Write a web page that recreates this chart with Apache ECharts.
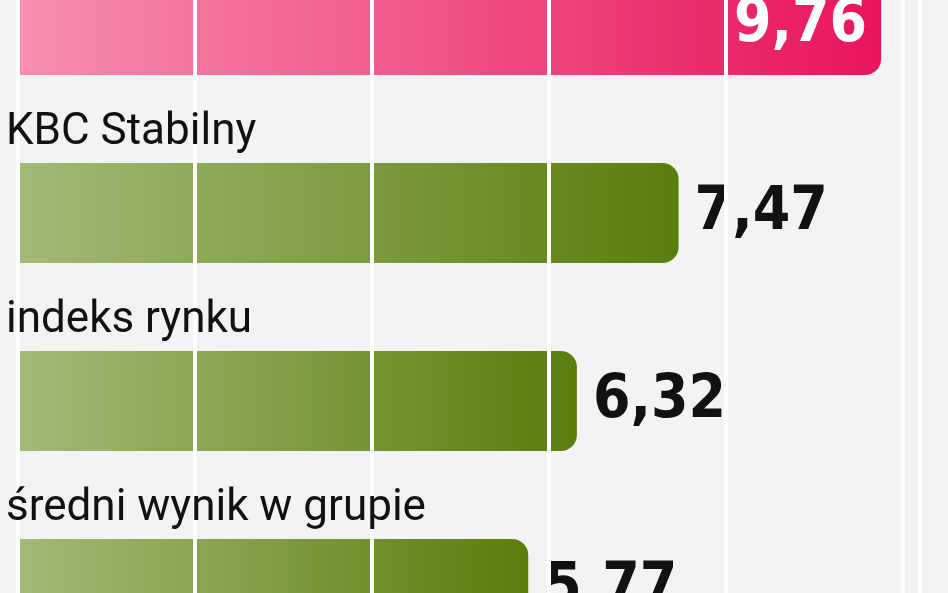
<!DOCTYPE html>
<html><head><meta charset="utf-8">
<script src="https://cdn.jsdelivr.net/npm/echarts@6/dist/echarts.min.js"></script>
<style>html,body{margin:0;padding:0;background:#f3f3f3;overflow:hidden;width:948px;height:593px}#c{position:absolute;left:0;top:-69px;width:948px;height:752px}</style>
</head><body><div id="c"></div>
<script>
const categories = ["", "KBC Stabilny", "indeks rynku", "średni wynik w grupie"];
const values = [9.76, 7.47, 6.32, 5.77];
const highlight = [true, false, false, false];

const green = new echarts.graphic.LinearGradient(0,0,1,0,[{offset:0,color:'#a3ba78'},{offset:1,color:'#5a7e0c'}]);
const pink = new echarts.graphic.LinearGradient(0,0,1,0,[{offset:0,color:'#f78fae'},{offset:1,color:'#e8155a'}]);

const chart = echarts.init(document.getElementById('c'));
chart.setOption({
  backgroundColor:'#f3f3f3',
  animation:false,
  grid:{left:18,right:28,top:0,bottom:0},
  xAxis:{type:'value',min:0,max:10.2,interval:2,z:5,
    axisLabel:{show:false},axisLine:{show:false},axisTick:{show:false},
    splitLine:{show:true,lineStyle:{color:'#ffffff',width:4}}},
  yAxis:{type:'category',inverse:true,data:categories,z:8,
    axisLine:{show:false},axisTick:{show:false},
    axisLabel:{inside:true,align:'left',verticalAlign:'bottom',margin:-12,padding:[0,0,58,0],
      fontFamily:'Roboto, DejaVu Sans',fontSize:44,color:'#111'}},
  series:[{type:'bar',barWidth:100,z:2,
    data:values.map((v,i)=>({value:v,
      itemStyle:{color:highlight[i]?pink:green,borderRadius:[0,16,16,0]},
      label:{show:true,position:highlight[i]?'insideRight':'right',
        distance:highlight[i]?14:16,
        color:highlight[i]?'#fff':'#111'}})),
    label:{fontFamily:'DejaVu Sans Condensed, Roboto Condensed',fontWeight:'bold',fontSize:60,
      formatter:p=>p.value.toFixed(2).replace('.',',')}
  }]
});
</script></body></html>
